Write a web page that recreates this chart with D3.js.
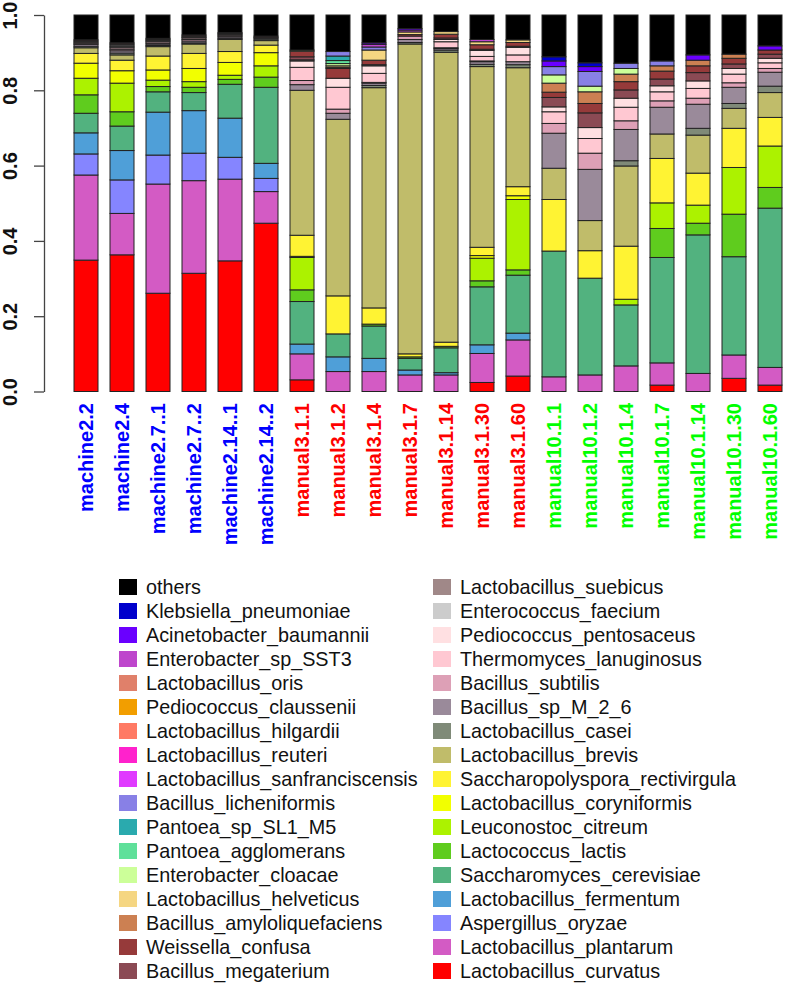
<!DOCTYPE html>
<meta charset="utf-8">
<title>Species composition</title>
<script src="https://d3js.org/d3.v7.min.js"></script>
<body style="margin:0; background:#fff">
</body>
<script>
var samples = ["machine2.2", "machine2.4", "machine2.7..1", "machine2.7..2", "machine2.14..1", "machine2.14..2",
  "manual3.1.1", "manual3.1.2", "manual3.1.4", "manual3.1.7", "manual3.1.14", "manual3.1.30", "manual3.1.60",
  "manual10.1.1", "manual10.1.2", "manual10.1.4", "manual10.1.7", "manual10.1.14", "manual10.1.30", "manual10.1.60"];
var sampleColors = ["#0000FF", "#0000FF", "#0000FF", "#0000FF", "#0000FF", "#0000FF",
  "#FF0000", "#FF0000", "#FF0000", "#FF0000", "#FF0000", "#FF0000", "#FF0000",
  "#00FF00", "#00FF00", "#00FF00", "#00FF00", "#00FF00", "#00FF00", "#00FF00"];

// stacking order, bottom to top
var species = ["Lactobacillus_curvatus", "Lactobacillus_plantarum", "Aspergillus_oryzae", "Lactobacillus_fermentum",
  "Saccharomyces_cerevisiae", "Lactococcus_lactis", "Leuconostoc_citreum", "Lactobacillus_coryniformis",
  "Saccharopolyspora_rectivirgula", "Lactobacillus_brevis", "Lactobacillus_casei", "Bacillus_sp_M_2_6",
  "Bacillus_subtilis", "Thermomyces_lanuginosus", "Pediococcus_pentosaceus", "Enterococcus_faecium",
  "Lactobacillus_suebicus", "Bacillus_megaterium", "Weissella_confusa", "Bacillus_amyloliquefaciens",
  "Lactobacillus_helveticus", "Enterobacter_cloacae", "Pantoea_agglomerans", "Pantoea_sp_SL1_M5",
  "Bacillus_licheniformis", "Lactobacillus_sanfranciscensis", "Lactobacillus_reuteri", "Lactobacillus_hilgardii",
  "Pediococcus_claussenii", "Lactobacillus_oris", "Enterobacter_sp_SST3", "Acinetobacter_baumannii",
  "Klebsiella_pneumoniae", "others"];
var speciesColors = ["#FF0000", "#D35BC4", "#8585FF", "#4F9FD8",
  "#52B27F", "#5FCC1E", "#ACF200", "#F2FF00",
  "#FFF333", "#C0BC6A", "#7F8A78", "#9A8A9A",
  "#DDA0B6", "#FFC8D2", "#FFE0E2", "#CCCCCC",
  "#A08888", "#8B4A54", "#963A3A", "#CC8052",
  "#F5D682", "#CCFF99", "#5FE09A", "#2AAAAE",
  "#8880E6", "#E03AFF", "#FF22CC", "#FF7A64",
  "#F29E00", "#E0806A", "#BE46CC", "#6A00FF",
  "#0000CC", "#000000"];

// relative abundance per species, one value per sample
var curvatus      = [0.349, 0.363, 0.261, 0.314, 0.347, 0.447, 0.031, 0, 0, 0, 0, 0.024, 0.041, 0, 0, 0, 0.017, 0, 0.035, 0.017];
var plantarum     = [0.226, 0.110, 0.290, 0.246, 0.217, 0.084, 0.069, 0.053, 0.053, 0.044, 0.044, 0.077, 0.096, 0.039, 0.044, 0.068, 0.059, 0.048, 0.062, 0.047];
var oryzae        = [0.056, 0.089, 0.077, 0.073, 0.058, 0.035, 0, 0, 0, 0, 0, 0, 0, 0, 0, 0, 0, 0, 0, 0];
var fermentum     = [0.056, 0.078, 0.114, 0.113, 0.104, 0.040, 0.026, 0.039, 0.035, 0.013, 0.006, 0.023, 0.018, 0, 0, 0, 0, 0, 0, 0];
var cerevisiae    = [0.052, 0.065, 0.054, 0.048, 0.090, 0.202, 0.113, 0.061, 0.086, 0.031, 0.066, 0.154, 0.154, 0.334, 0.257, 0.162, 0.280, 0.368, 0.261, 0.423];
var lactis        = [0.049, 0.038, 0.014, 0.014, 0.013, 0.027, 0.031, 0, 0.005, 0.004, 0.004, 0.016, 0.014, 0, 0, 0, 0.077, 0.031, 0.113, 0.055];
var citreum       = [0.044, 0.076, 0.017, 0.015, 0.011, 0.030, 0.086, 0, 0, 0, 0, 0.060, 0.187, 0, 0, 0.015, 0.068, 0.048, 0.124, 0.110];
var coryniformis  = [0.040, 0.033, 0.027, 0.035, 0.034, 0.035, 0.003, 0, 0, 0, 0, 0.007, 0.010, 0, 0, 0, 0, 0, 0, 0];
var rectivirgula  = [0.026, 0.028, 0.037, 0.040, 0.029, 0.020, 0.056, 0.101, 0.043, 0.008, 0.011, 0.022, 0.024, 0.137, 0.073, 0.141, 0.118, 0.085, 0.104, 0.076];
var brevis        = [0.015, 0.014, 0.025, 0.025, 0.032, 0.012, 0.385, 0.469, 0.585, 0.823, 0.770, 0.480, 0.316, 0.083, 0.080, 0.213, 0.065, 0.101, 0.053, 0.066];
var casei         = [0.004, 0.005, 0.003, 0.003, 0.003, 0.004, 0, 0, 0.006, 0.004, 0.006, 0.006, 0.008, 0, 0, 0.014, 0, 0.018, 0.013, 0.017];
var bacillusSp    = [0.005, 0.006, 0.004, 0.005, 0.004, 0.003, 0.015, 0.016, 0.006, 0.008, 0.004, 0.007, 0.008, 0.093, 0.136, 0.083, 0.071, 0.064, 0.043, 0.037];
var subtilis      = [0.003, 0.004, 0.003, 0.004, 0.003, 0, 0.011, 0.011, 0.002, 0.009, 0.002, 0.002, 0, 0.026, 0.043, 0.023, 0.017, 0.016, 0.012, 0.010];
var lanuginosus   = [0.003, 0.004, 0.004, 0.004, 0.003, 0, 0.035, 0.058, 0.024, 0, 0.016, 0.012, 0.018, 0.031, 0.039, 0.036, 0.024, 0.026, 0.023, 0.015];
var pentosaceus   = [0, 0.003, 0.002, 0.002, 0, 0, 0.017, 0.024, 0.020, 0, 0.006, 0.016, 0.020, 0.013, 0.029, 0.024, 0.016, 0.020, 0.015, 0.012];
var faecium       = [0, 0.004, 0, 0, 0, 0, 0, 0, 0, 0, 0, 0, 0, 0, 0, 0, 0, 0, 0, 0];
var suebicus      = [0.003, 0.003, 0.003, 0.003, 0.003, 0.002, 0.003, 0, 0.003, 0, 0, 0.003, 0.003, 0, 0, 0, 0, 0, 0, 0];
var megaterium    = [0.003, 0.003, 0.003, 0.003, 0.002, 0.003, 0.008, 0, 0, 0, 0.004, 0, 0, 0.025, 0.039, 0.022, 0.018, 0.022, 0.012, 0.011];
var confusa       = [0, 0, 0, 0, 0, 0, 0.015, 0.026, 0.012, 0.004, 0.010, 0.012, 0.010, 0.014, 0.025, 0.022, 0.021, 0.018, 0.015, 0.011];
var amylolique    = [0, 0, 0, 0, 0, 0, 0, 0.003, 0, 0, 0, 0, 0, 0.024, 0.031, 0.020, 0.014, 0.015, 0.011, 0];
var helveticus    = [0, 0, 0, 0, 0, 0, 0, 0.004, 0.027, 0.007, 0.007, 0.008, 0.007, 0, 0, 0, 0, 0, 0, 0];
var cloacae       = [0, 0, 0, 0, 0, 0, 0.003, 0.006, 0, 0, 0, 0, 0, 0.022, 0.015, 0.015, 0, 0, 0, 0];
var agglomerans   = [0, 0, 0, 0, 0, 0, 0, 0.008, 0, 0, 0, 0, 0, 0, 0, 0, 0, 0, 0, 0];
var pantoeaSp     = [0, 0, 0, 0, 0, 0, 0, 0.012, 0, 0, 0, 0, 0, 0, 0, 0, 0, 0, 0, 0];
var licheniformis = [0, 0, 0, 0, 0, 0, 0, 0.012, 0.008, 0, 0, 0, 0, 0.022, 0.039, 0.014, 0.013, 0, 0, 0];
var sanfran       = [0, 0, 0, 0, 0, 0, 0, 0, 0, 0, 0, 0, 0, 0, 0, 0, 0, 0, 0, 0];
var reuteri       = [0, 0, 0, 0, 0, 0, 0, 0, 0, 0, 0, 0, 0, 0, 0, 0, 0, 0, 0, 0];
var hilgardii     = [0, 0, 0, 0, 0, 0, 0, 0, 0, 0, 0, 0, 0, 0, 0, 0, 0, 0, 0, 0];
var claussenii    = [0, 0, 0, 0, 0, 0, 0, 0, 0, 0, 0, 0, 0, 0, 0, 0, 0, 0, 0, 0];
var oris          = [0, 0, 0, 0, 0, 0, 0, 0, 0, 0, 0, 0, 0, 0, 0, 0, 0, 0, 0, 0];
var sst3          = [0, 0, 0, 0, 0, 0, 0, 0, 0.007, 0.005, 0, 0.006, 0, 0, 0, 0, 0, 0, 0, 0];
var baumannii     = [0, 0, 0, 0, 0, 0, 0, 0, 0.004, 0.004, 0, 0, 0, 0.015, 0.013, 0, 0, 0.014, 0, 0.011];
var pneumoniae    = [0, 0, 0, 0, 0, 0, 0, 0, 0, 0, 0, 0, 0, 0.011, 0.010, 0, 0, 0, 0, 0];
var others        = [0.066, 0.074, 0.062, 0.053, 0.047, 0.056, 0.093, 0.097, 0.074, 0.036, 0.044, 0.065, 0.066, 0.111, 0.127, 0.128, 0.122, 0.106, 0.104, 0.082];

var seriesValues = [curvatus, plantarum, oryzae, fermentum, cerevisiae, lactis, citreum, coryniformis,
  rectivirgula, brevis, casei, bacillusSp, subtilis, lanuginosus, pentosaceus, faecium,
  suebicus, megaterium, confusa, amylolique, helveticus, cloacae, agglomerans, pantoeaSp,
  licheniformis, sanfran, reuteri, hilgardii, claussenii, oris, sst3, baumannii, pneumoniae, others];
var yTicks = [0, 0.2, 0.4, 0.6, 0.8, 1.0];

var font = "'Liberation Sans', Arial, Helvetica, sans-serif";

var rows = samples.map(function (s, j) {
  var r = {sample: s};
  species.forEach(function (sp, i) { r[sp] = seriesValues[i][j]; });
  return r;
});
var stacked = d3.stack().keys(species)(rows);

var svg = d3.select("body").append("svg")
  .attr("width", 787)
  .attr("height", 985)
  .style("font-family", font);

var x = d3.scaleBand().domain(samples).range([68, 788]).paddingInner(1 / 3).paddingOuter(1 / 6);
var y = d3.scaleLinear().domain([0, 1]).range([391.5, 15]);
var color = d3.scaleOrdinal().domain(species).range(speciesColors);

svg.append("g").selectAll("g")
  .data(stacked)
  .enter().append("g")
  .attr("fill", function (d) { return color(d.key); })
  .selectAll("rect")
  .data(function (d) { return d; })
  .enter().append("rect")
  .attr("x", function (d) { return x(d.data.sample); })
  .attr("y", function (d) { return y(d[1]); })
  .attr("width", x.bandwidth())
  .attr("height", function (d) { return y(d[0]) - y(d[1]); })
  .attr("stroke", "#222")
  .attr("stroke-width", 1);

// y axis, labels turned like R's default
var yAxis = svg.append("g")
  .attr("transform", "translate(44,0)")
  .call(d3.axisLeft(y).tickValues(yTicks).tickFormat(d3.format(".1f")).tickSize(10).tickSizeOuter(0));
yAxis.select(".domain").attr("stroke", "#444").attr("stroke-width", 1.3);
yAxis.selectAll(".tick line").attr("stroke", "#444").attr("stroke-width", 1.3);
yAxis.selectAll(".tick text")
  .attr("transform", "rotate(-90)")
  .attr("x", 0)
  .attr("y", -27)
  .attr("dy", 0)
  .attr("text-anchor", "middle")
  .attr("fill", "#111")
  .style("font-family", font)
  .style("font-size", "20px")
  .style("font-weight", "bold");

// sample labels
svg.append("g").selectAll("text")
  .data(samples)
  .enter().append("text")
  .attr("transform", function (d) { return "translate(" + (x(d) + x.bandwidth() / 2) + ",403) rotate(-90)"; })
  .attr("text-anchor", "end")
  .attr("dy", "0.36em")
  .attr("fill", function (d, i) { return sampleColors[i]; })
  .style("font-size", "20px")
  .style("font-weight", "bold")
  .text(function (d) { return d; });

// legend: two columns, top of the stack first
var legendOrder = species.slice().reverse();
var legend = svg.append("g").selectAll("g")
  .data(legendOrder)
  .enter().append("g")
  .attr("transform", function (d, i) {
    var col = Math.floor(i / 17), row = i % 17;
    return "translate(" + (col === 0 ? 119 : 433) + "," + (587 + row * 24) + ")";
  });
legend.append("rect")
  .attr("x", 0)
  .attr("y", -8)
  .attr("width", 18)
  .attr("height", 16)
  .attr("fill", function (d) { return color(d); });
legend.append("text")
  .attr("x", 27)
  .attr("dy", "0.36em")
  .attr("fill", "#111")
  .style("font-size", "19.8px")
  .text(function (d) { return d; });
</script>
